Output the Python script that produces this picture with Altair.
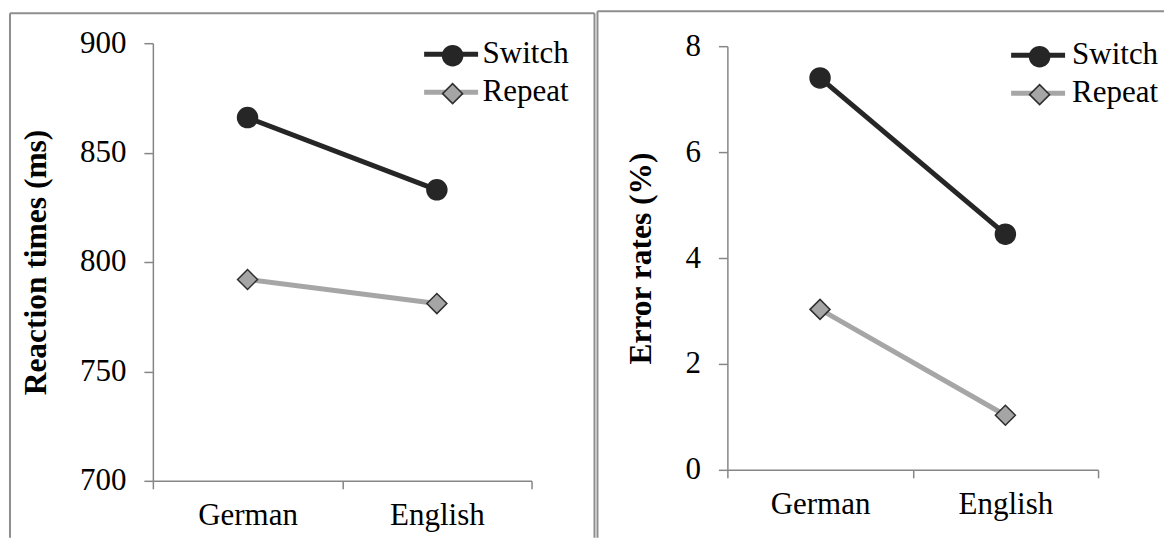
import altair as alt
import pandas as pd

# ---- data ----
languages = ["German", "English"]
series = ["Switch", "Repeat"]
rt_switch = [866, 833]
rt_repeat = [792, 781]
err_switch = [7.4, 4.45]
err_repeat = [3.03, 1.03]
rt_ticks = [700, 750, 800, 850, 900]
err_ticks = [0, 2, 4, 6, 8]

# ---- styles ----
FONT = "Liberation Serif"
LINE_COLORS = ["#262626", "#a6a6a6"]
MARKER_FILL = ["#262626", "#a5a5a5"]
MARKER_STROKE = ["#262626", "#2e2e2e"]
MARKER_SHAPES = ["circle", "diamond"]
AXIS_COLOR = "#868686"
FRAME_COLOR = "#8e8e8e"
LINE_PATH = "M-2.7,0H2.7"


def long_table(switch_vals, repeat_vals):
    rows = []
    for name, vals in zip(series, [switch_vals, repeat_vals]):
        for lang, v in zip(languages, vals):
            rows.append({"Language": lang, "Series": name, "Marker": name, "Value": v})
    return pd.DataFrame(rows)


def panel(df, title, domain, ticks, w, h, yrange, frame, legA, legB):
    x = alt.X(
        "Language:N",
        sort=languages,
        scale=alt.Scale(type="band", paddingInner=0, paddingOuter=0),
        axis=alt.Axis(
            title=None, tickBand="extent", labelAngle=0, grid=False,
            domainColor=AXIS_COLOR, domainWidth=1.5, tickColor=AXIS_COLOR,
            tickWidth=1.5, tickSize=8, labelPadding=12,
            labelFont=FONT, labelFontSize=31, labelColor="black",
        ),
    )
    y = alt.Y(
        "Value:Q",
        scale=alt.Scale(domain=domain, nice=False, zero=False, range=yrange),
        axis=alt.Axis(
            values=ticks, title=title, grid=False,
            domainColor=AXIS_COLOR, domainWidth=1.5, tickColor=AXIS_COLOR,
            tickWidth=1.5, tickSize=9, labelPadding=18,
            labelFont=FONT, labelFontSize=31, labelColor="black",
            titleFont=FONT, titleFontSize=31.5, titleFontWeight="bold",
            titleColor="black", titlePadding=27,
        ),
    )

    line = alt.Chart(df).mark_line(strokeWidth=5).encode(
        x=x, y=y,
        color=alt.Color(
            "Series:N", sort=series,
            scale=alt.Scale(range=LINE_COLORS),
            legend=alt.Legend(
                orient="none", legendX=legA[0], legendY=legA[1], title=None,
                symbolType=LINE_PATH, symbolSize=400, symbolStrokeWidth=5,
                labelFont=FONT, labelFontSize=31, labelColor="black",
                labelOffset=legA[2], rowPadding=6, padding=0, labelLimit=300,
            ),
        ),
    )

    legB_obj = alt.Legend(
        orient="none", legendX=legB[0], legendY=legB[1], title=None,
        symbolSize=400, symbolStrokeWidth=1.5, symbolOpacity=1,
        labelFont=FONT, labelFontSize=31, labelOpacity=0,
        labelOffset=legA[2], rowPadding=6, padding=0, labelLimit=300,
    )
    points = alt.Chart(df).mark_point(filled=True, size=400, strokeWidth=1.5, opacity=1).encode(
        x=x, y=y,
        shape=alt.Shape("Marker:N", scale=alt.Scale(domain=series, range=MARKER_SHAPES), legend=legB_obj),
        fill=alt.Fill("Marker:N", scale=alt.Scale(domain=series, range=MARKER_FILL), legend=legB_obj),
        stroke=alt.Stroke("Marker:N", scale=alt.Scale(domain=series, range=MARKER_STROKE), legend=legB_obj),
    )

    fdf = pd.DataFrame({"k": [0]})
    L, T, R, B, with_right = frame
    rules = [
        alt.Chart(fdf).mark_rule(color=FRAME_COLOR, strokeWidth=2).encode(
            x=alt.value(L), y=alt.value(T), y2=alt.value(B)),
        alt.Chart(fdf).mark_rule(color=FRAME_COLOR, strokeWidth=2).encode(
            x=alt.value(L), x2=alt.value(R), y=alt.value(T)),
    ]
    if with_right:
        rules.append(
            alt.Chart(fdf).mark_rule(color=FRAME_COLOR, strokeWidth=2).encode(
                x=alt.value(R), y=alt.value(T), y2=alt.value(B)))
    return alt.layer(*rules, line, points).properties(width=w, height=h)


left = panel(
    long_table(rt_switch, rt_repeat), "Reaction times (ms)", [700, 900], rt_ticks,
    379, 438, [438, 0], (-143, -30, 442, 495, True),
    (283, -4.5, 16), (284.5, -3),
)

right = panel(
    long_table(err_switch, err_repeat), "Error rates (%)", [0, 8], err_ticks,
    371, 427, [427, 3], (-130, -32, 437, 495, False),
    (295.5, -3.5, 18.5), (297, -2),
)

chart = alt.hconcat(left, right, spacing=1).resolve_scale(
    color="independent", shape="independent", fill="independent", stroke="independent",
).resolve_legend(
    color="independent", shape="independent", fill="independent", stroke="independent",
).properties(
    padding={"left": 9, "top": 10, "right": 0, "bottom": 0},
    background="white",
).configure(
    font=FONT,
).configure_axis(
    labelFont=FONT, titleFont=FONT,
).configure_legend(
    labelFont=FONT,
).configure_view(stroke=None)

chart.save("out.html", embed_options={"renderer": "svg", "actions": False})
